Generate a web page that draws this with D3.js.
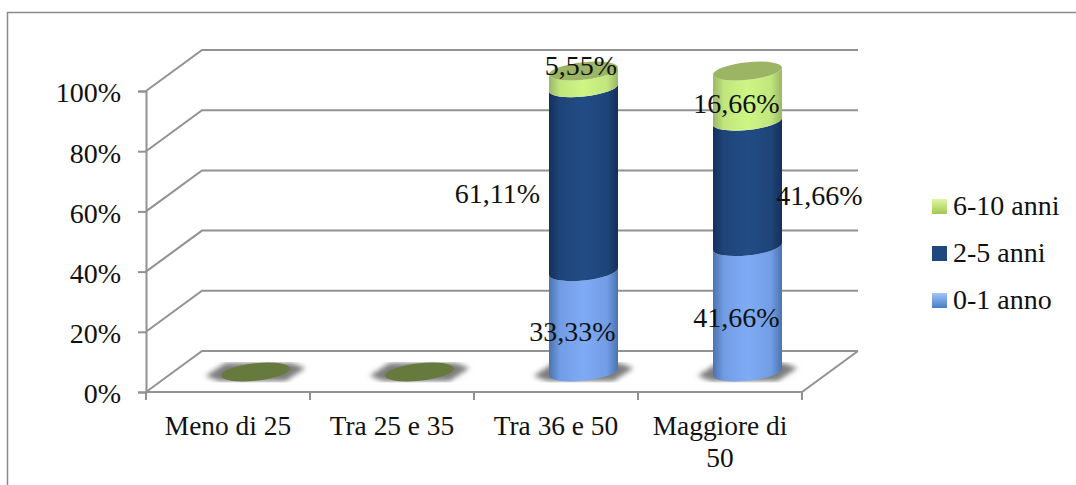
<!DOCTYPE html>
<html>
<head>
<meta charset="utf-8">
<script src="https://d3js.org/d3.v7.min.js"></script>
<style>
  html, body { margin: 0; background: #fff; }
  svg { display: block; }
  text { font-family: "Liberation Serif", serif; font-size: 28px; fill: #111; }
</style>
</head>
<body>
<svg id="chart" width="1076" height="485"></svg>
<script>
// Age bands and the stacked share of each tenure class, in percent
const categories = ["Meno di 25", "Tra 25 e 35", "Tra 36 e 50", "Maggiore di 50"];
const seriesNames = ["0-1 anno", "2-5 anni", "6-10 anni"];
const values01 = [0, 0, 33.33, 41.66];
const values25 = [0, 0, 61.11, 41.66];
const values610 = [0, 0, 5.55, 16.66];
const yTicks = [0, 20, 40, 60, 80, 100];

// Label nudges from the centre of each segment: [dx, dy] per series, per category
const labelNudge01 = [null, null, [-11, 19], [-11, 18]];
const labelNudge25 = [null, null, [-86, 23], [72, 21]];
const labelNudge610 = [null, null, [-2.5, -4], [-11, 17]];

const svg = d3.select("#chart");
const defs = svg.append("defs");

const FRONT_LEFT = 146, FRONT_RIGHT = 802;
const DEPTH_X = 56, DEPTH_Y = -41;
const RX = 34.5, RY = 8.8, SHEAR = -0.1;

const x = d3.scaleBand().domain(categories).range([FRONT_LEFT, FRONT_RIGHT]);
const y = d3.scaleLinear().domain([0, 100]).range([392, 91]);
const comma = d3.formatLocale({ decimal: ",", thousands: ".", grouping: [3], currency: ["", ""] }).format(".2f");

const palette = [
  { edge: "#4c73b0", mid: "#7fabf6", swatchTop: "#a0c3fa", swatchBottom: "#4a7dc3" },
  { edge: "#15305a", mid: "#214c84", swatchTop: "#1f497d", swatchBottom: "#1f497d" },
  { edge: "#9bb766", mid: "#cdf684", swatchTop: "#ddf9a2", swatchBottom: "#a6c553" }
];

function addGradient(id, horizontal) {
  return defs.append("linearGradient").attr("id", id)
    .attr("x1", 0).attr("y1", 0)
    .attr("x2", horizontal ? 1 : 0).attr("y2", horizontal ? 0 : 1);
}
palette.forEach((p, i) => {
  const shade = d3.interpolateRgb(p.edge, p.mid)(0.75);
  const body = addGradient("body" + i, true);
  [[0, p.edge], [0.16, shade], [0.5, p.mid], [0.84, shade], [1, p.edge]]
    .forEach(([o, c]) => body.append("stop").attr("offset", o).attr("stop-color", c));
  const swatch = addGradient("swatch" + i, false);
  swatch.append("stop").attr("offset", 0).attr("stop-color", p.swatchTop);
  swatch.append("stop").attr("offset", 1).attr("stop-color", p.swatchBottom);
});
defs.append("filter").attr("id", "soft").attr("x", "-30%").attr("y", "-80%").attr("width", "160%").attr("height", "260%")
  .append("feGaussianBlur").attr("stdDeviation", 2.6);
defs.append("filter").attr("id", "hair").attr("x", "-5%").attr("y", "-5%").attr("width", "110%").attr("height", "110%")
  .append("feGaussianBlur").attr("stdDeviation", 0.35);

// Outer frame, open on the right and at the bottom
svg.append("path").attr("d", "M7.5,485V12.5H1076")
  .attr("fill", "none").attr("stroke", "#8a8a8a").attr("stroke-width", 1.5);

// Walls and floor of the 3D plot area
const walls = svg.append("g").attr("fill", "none").attr("stroke", "#929292").attr("stroke-width", 2).attr("filter", "url(#hair)");
walls.selectAll("path.grid").data(yTicks).join("path").attr("class", "grid")
  .attr("d", t => d3.line()([
    [FRONT_LEFT, y(t)],
    [FRONT_LEFT + DEPTH_X, y(t) + DEPTH_Y],
    [FRONT_RIGHT + DEPTH_X, y(t) + DEPTH_Y]
  ]));
walls.append("path").attr("d", d3.line()([
  [FRONT_LEFT, y(0)], [FRONT_RIGHT, y(0)], [FRONT_RIGHT + DEPTH_X, y(0) + DEPTH_Y]
]));

// Value axis
const yAxis = svg.append("g").attr("transform", `translate(${FRONT_LEFT},0)`)
  .call(d3.axisLeft(y).tickValues(yTicks).tickFormat(d => d + "%").tickSize(8).tickPadding(17));
yAxis.select(".domain").attr("stroke", "#929292").attr("stroke-width", 2);
yAxis.selectAll("line").attr("stroke", "#929292").attr("stroke-width", 2);
yAxis.selectAll("text").attr("dy", "0.39em").style("font-family", '"Liberation Serif", serif').style("font-size", "28px");

// Category axis: ticks sit on the band boundaries
svg.append("g").selectAll("line").data(d3.range(categories.length + 1)).join("line")
  .attr("x1", i => FRONT_LEFT + i * x.step()).attr("x2", i => FRONT_LEFT + i * x.step())
  .attr("y1", y(0)).attr("y2", y(0) + 8)
  .attr("stroke", "#929292").attr("stroke-width", 2);

const catLabels = svg.append("g").selectAll("text").data(categories).join("text")
  .attr("text-anchor", "middle")
  .attr("y", 435)
  .style("font-size", "27.4px");
catLabels.each(function (c) {
  const lines = c === "Maggiore di 50" ? ["Maggiore di", "50"] : [c];
  d3.select(this).selectAll("tspan").data(lines).join("tspan")
    .attr("x", x(c) + x.bandwidth() / 2)
    .attr("dy", (_, i) => i ? 32 : 0)
    .text(d => d);
});

// Cylinders: each is drawn in sheared space so the ellipses lean slightly upward to the right
const columnX = c => x(c) + x.bandwidth() / 2 + DEPTH_X / 2 - 0.5;
const columnY = v => y(v) + DEPTH_Y / 2 + 0.5;
const shear = (cx, k) => `matrix(1,${k},0,1,0,${-k * cx})`;
const seriesValues = [values01, values25, values610];
const nudges = [labelNudge01, labelNudge25, labelNudge610];

const columns = svg.append("g").selectAll("g").data(categories).join("g");
columns.each(function (c, ci) {
  const cx = columnX(c);
  const cy = columnY(0);
  const g = d3.select(this);
  const total = d3.sum(seriesValues, s => s[ci]);

  // Soft slanted shadow on the floor, clipped to a flat band
  const clipId = "floor" + ci;
  defs.append("clipPath").attr("id", clipId).append("rect")
    .attr("x", cx - 70).attr("y", cy - 10).attr("width", 140).attr("height", 20.5);
  g.append("g").attr("clip-path", `url(#${clipId})`)
    .append("path")
    .attr("d", `M${cx - 36},${cy + 9}L${cx - 50},${cy + 4}L${cx - 30},${cy - 9}L${cx + 36},${cy - 9}L${cx + 50},${cy - 4}L${cx + 30},${cy + 9}Z`)
    .attr("fill", "#7d7d7d").attr("filter", "url(#soft)");

  const body = g.append("g").attr("transform", shear(cx, SHEAR));
  if (total === 0) {
    body.append("ellipse").attr("cx", cx).attr("cy", cy)
      .attr("rx", RX).attr("ry", RY).attr("fill", "#677a3e");
    return;
  }
  let cum = 0;
  seriesValues.forEach((s, si) => {
    const y0 = columnY(cum), y1 = columnY(cum + s[ci]);
    cum += s[ci];
    body.append("path")
      .attr("d", `M${cx - RX},${y0}A${RX},${RY} 0 0 0 ${cx + RX},${y0}L${cx + RX},${y1}A${RX},${RY} 0 0 1 ${cx - RX},${y1}Z`)
      .attr("fill", `url(#body${si})`);
  });
  // Closed top of the stack
  body.append("ellipse").attr("cx", cx).attr("cy", columnY(cum))
    .attr("rx", RX).attr("ry", RY).attr("fill", "#9bb565");
});

// Value labels, centred on their segments and then nudged to their resting spots
const labels = svg.append("g");
categories.forEach((c, ci) => {
  let cum = 0;
  seriesValues.forEach((s, si) => {
    const v = s[ci];
    const mid = cum + v / 2;
    cum += v;
    const n = nudges[si][ci];
    if (!v || !n) return;
    labels.append("text")
      .attr("x", columnX(c) + n[0])
      .attr("y", columnY(mid) + n[1])
      .attr("text-anchor", "middle")
      .text(comma(v) + "%");
  });
});

// Legend, with the top series listed first
const legendRows = seriesNames.map((name, i) => ({ name, i })).reverse();
const legendY = d3.scalePoint().domain(legendRows.map(d => d.name)).range([199, 293]);
const legend = svg.append("g").selectAll("g").data(legendRows).join("g")
  .attr("transform", d => `translate(932,${legendY(d.name)})`);
legend.append("rect").attr("width", 15).attr("height", 15).attr("fill", d => `url(#swatch${d.i})`);
legend.append("text").attr("x", 21).attr("y", 16).text(d => d.name);
</script>
</body>
</html>
